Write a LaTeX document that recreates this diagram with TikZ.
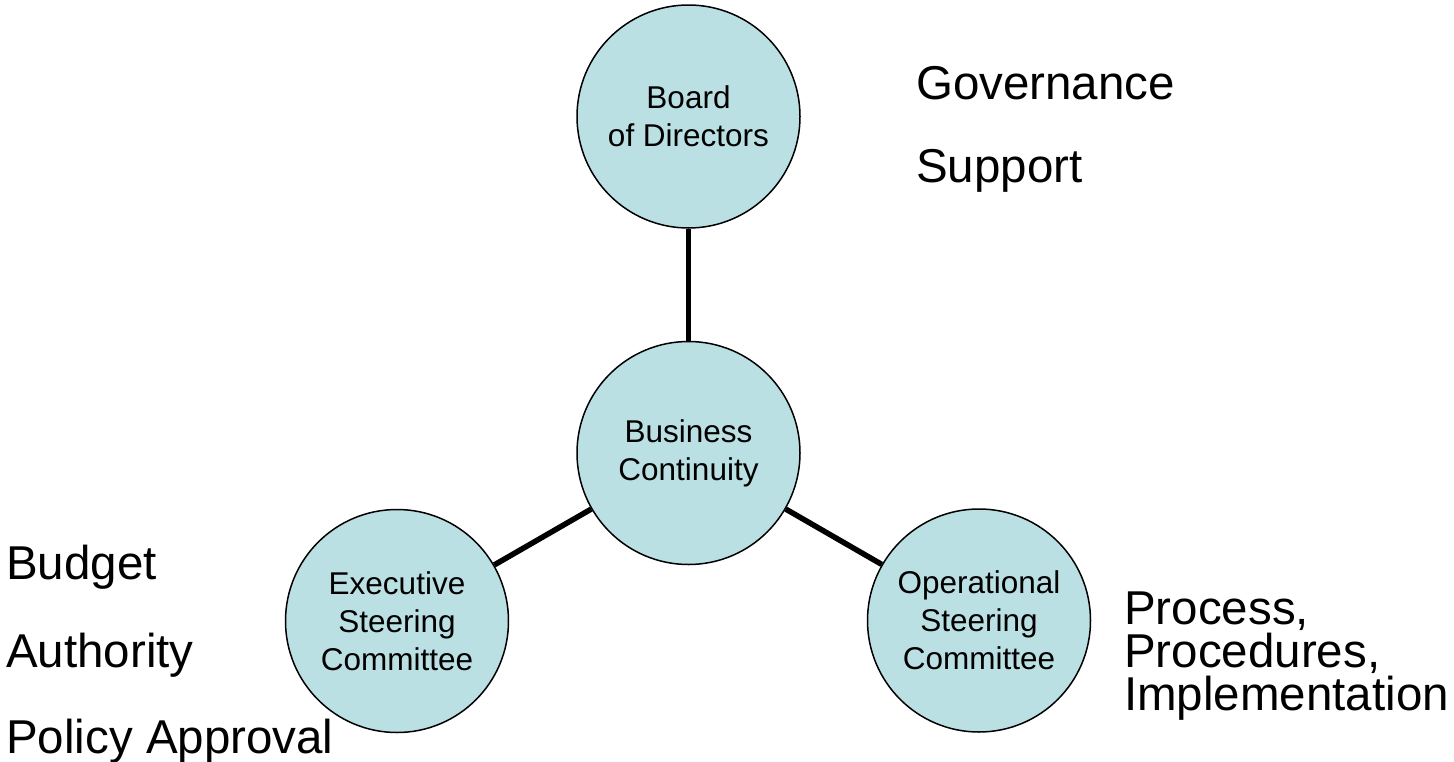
\documentclass[tikz,border=0pt]{standalone}
\usepackage{fontspec}
\setmainfont{Liberation Sans}
\definecolor{circfill}{HTML}{BBE0E3}
\tikzset{
  unit/.style={x=1pt,y=-1pt},
  bubble/.style={circle,draw=black,line width=1.5pt,fill=circfill,minimum size=223pt,inner sep=0pt,align=center,font=\fontsize{31.5}{38}\selectfont},
  big/.style={anchor=base west,inner sep=0pt,font=\fontsize{47.5}{43}\selectfont},
  link/.style={line width=5.5pt,draw=black}
}
\begin{document}
\begin{tikzpicture}[unit]
\useasboundingbox (0,0) rectangle (1454,761);
\node[bubble] (board) at (688.5,116.5) {Board\\of Directors};
\node[bubble] (bc) at (688.5,453) {Business\\Continuity};
\node[bubble] (exec) at (397,621) {Executive\\Steering\\Committee};
\node[bubble] (oper) at (979,620.5) {Operational\\Steering\\Committee};
\draw[link] (board) -- (bc);
\draw[link] (bc) -- (exec);
\draw[link] (bc) -- (oper);
\node[big] (gov) at (916,99) {Governance};
\node[big] (sup) at (916,182) {Support};
\node[big] (bud) at (6,579) {Budget};
\node[big] (auth) at (6,667) {Authority};
\node[big] (pol) at (6,753) {Policy Approval};
\node[big] (proc) at (1124,624) {Process,};
\node[big] (procd) at (1124,667) {Procedures,};
\node[big] (impl) at (1124,710) {Implementation};
\end{tikzpicture}
\end{document}
